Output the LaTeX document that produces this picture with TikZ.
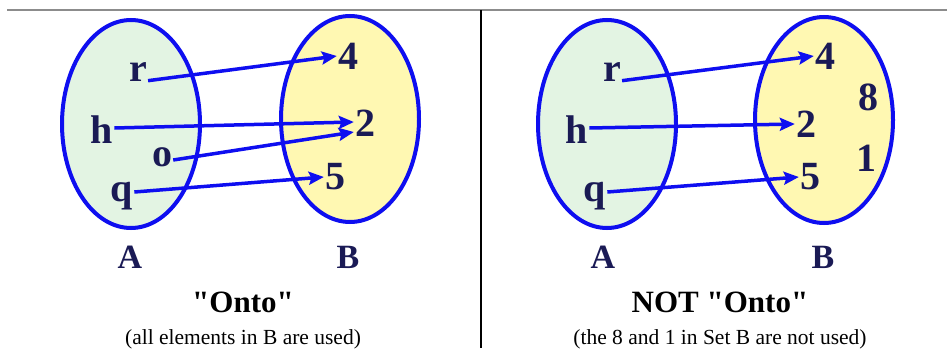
\documentclass[tikz,border=0pt]{standalone}
\usepackage{fontspec}
\setmainfont{Liberation Serif}
\usetikzlibrary{arrows.meta,positioning,shapes.geometric}
\definecolor{setblue}{HTML}{0E0EF0}
\definecolor{setgreen}{HTML}{E3F4E3}
\definecolor{setyellow}{HTML}{FFF8B2}
\definecolor{labelnavy}{HTML}{1A1A55}
\tikzset{
setdom/.style={draw=setblue,line width=4pt,ellipse,fill=setgreen,minimum width=138pt,minimum height=208pt},
setcod/.style={draw=setblue,line width=4pt,ellipse,fill=setyellow,minimum width=138pt,minimum height=206pt},
elem/.style={font=\fontsize{40}{40}\selectfont\bfseries,text=labelnavy,inner sep=1pt},
setname/.style={font=\fontsize{34}{34}\selectfont\bfseries,text=labelnavy,inner sep=0pt},
caption/.style={font=\fontsize{31}{31}\selectfont\bfseries,inner sep=0pt},
note/.style={font=\fontsize{21.5}{22}\selectfont,inner sep=0pt},
mapsto/.style={-{Stealth[length=15pt,width=13pt,inset=2.5pt]},draw=setblue,line width=3.5pt}
}
\begin{document}
\begin{tikzpicture}[x=1pt,y=-1pt]
\useasboundingbox (0,0) rectangle (947,348);
\draw[gray!90,line width=1.5pt](7,10)--(947,10);
\draw[line width=2pt](481,10)--(481,348);
% onto
\node[setdom](sa) at (131,124){};
\node[setcod](sb) at (350,119){};
\node[elem](r) at (138,72){r};
\node[elem](h) at (102,130){h};
\node[elem](o) at (162,157){o};
\node[elem](q) at (122,196){q};
\node[elem](four) at (348,56){4};
\node[elem](two) at (365,123){2};
\node[elem](five) at (335,177){5};
\node[setname](na) at (130,257){A};
\node[setname](nb) at (348,257){B};
\draw[mapsto]([yshift=2pt]r.south east)--(four.west);
\draw[mapsto]([yshift=2pt]h.east)--([yshift=1pt]two.west);
\draw[mapsto]([yshift=-3pt]o.east)--([yshift=-9pt]two.west);
\draw[mapsto]([yshift=4pt]q.east)--(five.west);
\node[caption](cap) at (243,302){\textquotedbl Onto\textquotedbl};
\node[note,below=17pt of cap](cnote){(all elements in B are used)};
% not onto
\node[setdom](sa2) at (607,124){};
\node[setcod](sb2) at (824,120){};
\node[elem](r2) at (612,72){r};
\node[elem](h2) at (577,130){h};
\node[elem](q2) at (595,196){q};
\node[elem](four2) at (825,56){4};
\node[elem](eight2) at (868,97){8};
\node[elem](two2) at (806,124){2};
\node[elem](one2) at (866,158){1};
\node[elem](five2) at (810,177){5};
\node[setname](na2) at (603,257){A};
\node[setname](nb2) at (823,257){B};
\draw[mapsto]([yshift=2pt]r2.south east)--(four2.west);
\draw[mapsto]([yshift=2pt]h2.east)--(two2.west);
\draw[mapsto]([yshift=4pt]q2.east)--(five2.west);
\node[caption](cap2) at (720,302){NOT \textquotedbl Onto\textquotedbl};
\node[note,below=17pt of cap2](cnote2){(the 8 and 1 in Set B are not used)};
\end{tikzpicture}
\end{document}
